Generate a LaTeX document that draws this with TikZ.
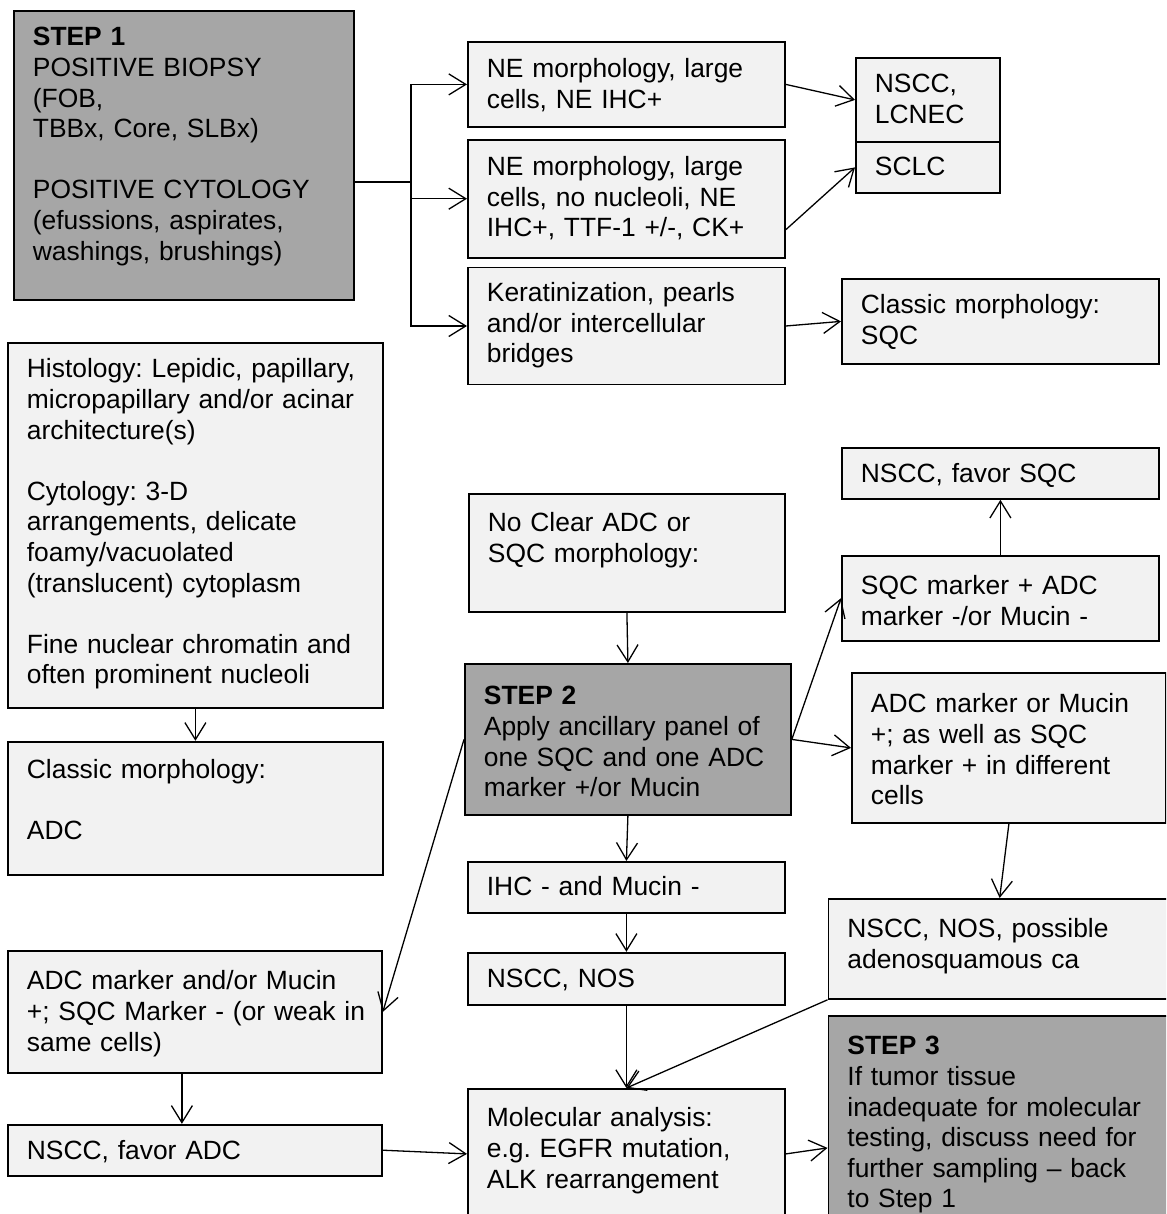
\documentclass[tikz,border=0pt]{standalone}
\usepackage{fontspec}
\setmainfont{Liberation Sans}
\usetikzlibrary{arrows.meta, positioning}

\begin{document}
\begin{tikzpicture}[x=1pt, y=-1pt]
\tikzset{% boxes are anchored at their top left corner
  block/.style={rectangle, draw, line width=1.8pt, fill=black!5, anchor=north west,
    align=left, inner xsep=19pt, inner ysep=0pt, text height=37pt,
    font=\fontsize{26.4}{30.6}\selectfont\frenchspacing},
  stepblock/.style={block, fill=black!35},
  line/.style={draw, line width=1.3pt, -{Straight Barb[length=17pt, width=21pt]}},
  trunk/.style={draw, line width=2.6pt},
}
\newlength{\LineSep}
\setlength{\LineSep}{30.6pt}

\useasboundingbox (0,0) rectangle (1166,1214);
\clip (0,0) rectangle (1166,1214);

\node[stepblock, text width=302pt, text height=35pt, text depth=254pt] (step1) at (13,10)
  {\textbf{STEP 1}\\POSITIVE BIOPSY\\(FOB,\\TBBx, Core, SLBx)\\[\LineSep]POSITIVE CYTOLOGY\\(efussions, aspirates,\\washings, brushings)};

\node[block, text width=279pt, text height=36pt, text depth=49pt] (ne1) at (467,41)
  {NE morphology, large\\cells, NE IHC+};
  \node[block, below=11pt of ne1, text width=279pt, text height=36pt, text depth=82pt]
    (ne2) {NE morphology, large\\cells, no nucleoli, NE\\IHC+, TTF-1 +/-, CK+};
  \node[block, below=8pt of ne2, text width=279pt, text height=34pt, text depth=83pt]
    (kerat) {Keratinization, pearls\\and/or intercellular\\bridges};

\node[block, text width=106pt, text height=35pt, text depth=49pt] (lcnec) at (855,57)
  {NSCC,\\LCNEC};
  \node[block, below=-1.8pt of lcnec, text width=106pt, text height=34pt, text depth=17pt]
    (sclc) {SCLC};
\node[block, text width=279pt, text height=35pt, text depth=50pt] (sqcclassic) at (841,278)
  {Classic morphology:\\SQC};

\node[block, text width=337pt, text height=35pt, text depth=330pt] (histo) at (7,342)
  {Histology: Lepidic, papillary,\\micropapillary and/or acinar\\architecture(s)\\[\LineSep]Cytology: 3-D\\arrangements, delicate\\foamy/vacuolated\\(translucent) cytoplasm\\[\LineSep]Fine nuclear chromatin and\\often prominent nucleoli};
  \node[block, below=32pt of histo, text width=337pt, text height=37pt, text depth=96pt]
    (adcclassic) {Classic morphology:\\[\LineSep]ADC};

\node[block, text width=278pt, text height=38pt, text depth=80pt] (noclear) at (468,493)
  {No Clear ADC or\\SQC morphology:};
\node[stepblock, text width=288pt, text height=41pt, text depth=110pt] (step2) at (464,663)
  {\textbf{STEP 2}\\Apply ancillary panel of\\one SQC and one ADC\\marker +/or Mucin};

\node[block, text width=279pt, text height=35pt, text depth=16pt] (favsqc) at (841,447)
  {NSCC, favor SQC};
  \node[block, below=55pt of favsqc, text width=279pt, text height=39pt, text depth=46pt]
    (sqcmarker) {SQC marker + ADC\\marker -/or Mucin -};
\node[block, text width=276pt, text height=40pt, text depth=110pt] (bothmarker) at (851,672)
  {ADC marker or Mucin\\+; as well as SQC\\marker + in different\\cells};

\node[block, text width=279pt, text height=34pt, text depth=17pt] (ihcneg) at (467,861)
  {IHC - and Mucin -};
  \node[block, below=38pt of ihcneg, text width=279pt, text height=35pt, text depth=17pt]
    (nsccnos) {NSCC, NOS};
\node[block, text width=304.5pt, text height=39pt, text depth=61pt] (adenosq) at (827.5,898)
  {NSCC, NOS, possible\\adenosquamous ca};

\node[block, text width=336pt, text height=39pt, text depth=83pt] (adcmarker) at (7,950)
  {ADC marker and/or Mucin\\\mbox{+; SQC Marker - (or weak in}\\same cells)};
  \node[block, below=50pt of adcmarker, text width=336pt, text height=35pt, text depth=16pt]
    (favadc) {NSCC, favor ADC};

\node[block, text width=279pt, text height=38pt, text depth=92pt] (molecular) at (467,1088)
  {Molecular analysis:\\e.g. EGFR mutation,\\ALK rearrangement};
\node[stepblock, text width=304.5pt, text height=39pt, text depth=225pt] (step3) at (827.5,1015)
  {\textbf{STEP 3}\\If tumor tissue\\inadequate for molecular\\testing, discuss need for\\further sampling – back\\to Step 1};

% step 1 splits into three
\coordinate (split) at (411,182);
\draw[trunk] (step1.east |- split) -- (split);
\draw[line] (split) |- (ne1.west);
\draw[line] (split) |- (ne2.west);
\draw[line] (split) |- (kerat.west);

\draw[line] (ne1.east) -- (lcnec.west);
\draw[line] ([yshift=-31pt]ne2.east) -- (sclc.west);
\draw[line] (kerat.east) -- (sqcclassic.west);

\draw[line] (histo.south) -- (adcclassic.north);
\draw[line] (noclear.south) -- (step2.north);
\draw[line] (step2.east) -- (sqcmarker.west);
\draw[line] (step2.east) -- (bothmarker.west);
\draw[line] (sqcmarker.north) -- (favsqc.south);
\draw[line] (step2.west) -- (adcmarker.east);
\draw[line] (step2.south) -- (ihcneg.north);
\draw[line] (ihcneg.south) -- (nsccnos.north);
\draw[line] (bothmarker.south) -- (adenosq.north);
\draw[line] ([xshift=-13pt]adcmarker.south) -- ([xshift=-13pt]favadc.north);
\draw[line] (favadc.east) -- (molecular.west);
\draw[line] (nsccnos.south) -- (molecular.north);
\draw[line] (adenosq.south west) -- (molecular.north);
\draw[line] (molecular.east) -- (step3.west);
\end{tikzpicture}
\end{document}
